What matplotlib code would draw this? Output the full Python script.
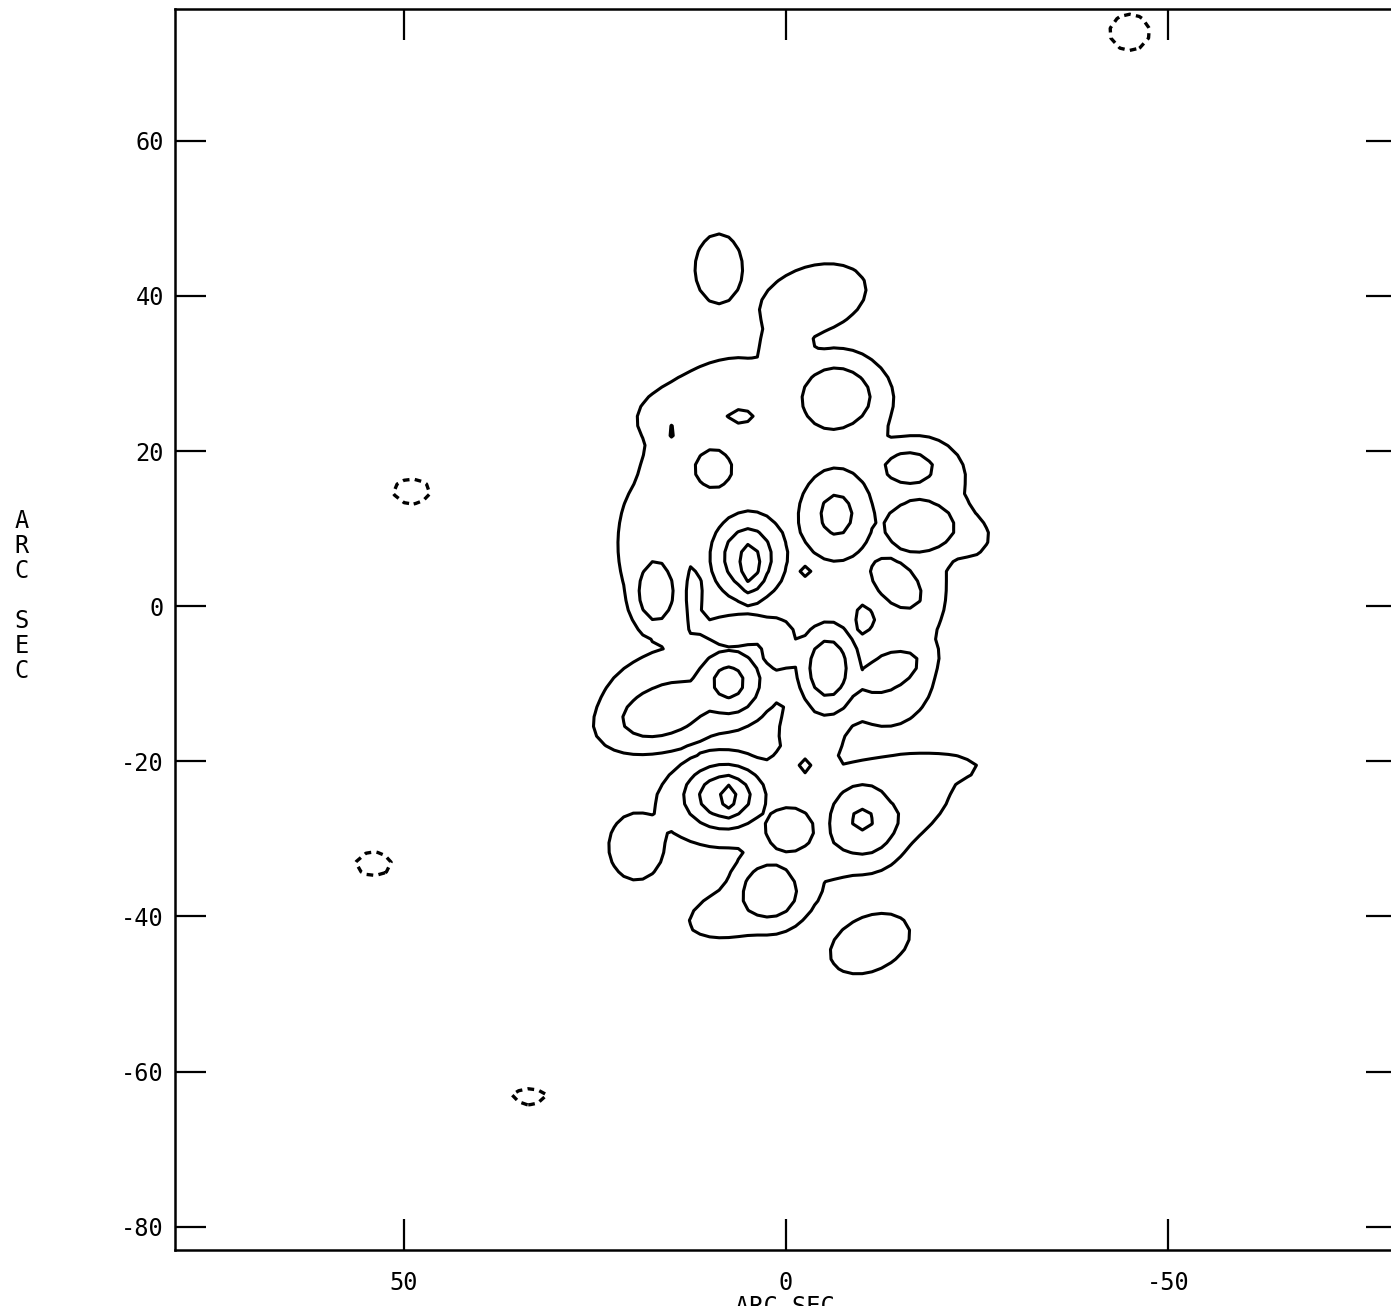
import numpy as np
import matplotlib
matplotlib.use("Agg")
import matplotlib.pyplot as plt

# ---------------------------------------------------------------------------
# Brightness map model: elliptical Gaussian components (offsets in arcsec).
# x = RA offset (east positive, plotted increasing to the left), y = Dec offset.
# pa = orientation of the sx axis, degrees counter-clockwise from +x.
# ---------------------------------------------------------------------------
# broad emission (plateau just above the lowest contour)
env_x   = [-3.5, 0.0, 10.0, -5.0, -9.0, -17.0, 17.5, 3.0, -15.5, -24.0, -13.0, 13.0, 0.0, -3.3,
           8.0, 19.6, -15.5, -15.0, 0.0, 4.0, -6.0, 8.8, -11.0,
           9.0, 15.5, -7.5, 0.3, -3.0]
env_y   = [39.5, 33.0, 24.0, 24.0, 27.0, 16.5, 8.0, 8.0, 3.0, 9.0, -8.0, -11.0, -6.0, -16.5,
           -25.5, -31.0, -21.5, -27.0, -30.0, -38.5, -31.0, 43.5, -43.5,
           28.5, 17.0, 1.0, -21.0, -22.5]
env_sx  = [6.64, 3.23, 8.76, 7.38, 4.15, 6.0, 4.15, 9.23, 5.07, 2.31, 6.0, 10.15, 5.54, 3.87,
           8.3, 3.32, 8.76, 7.38, 4.61, 8.3, 3.69, 2.86, 5.07,
           6.0, 3.2, 3.7, 2.3, 3.7]
env_sy  = [3.97, 3.69, 5.07, 6.46, 3.69, 5.07, 8.3, 11.07, 8.3, 2.31, 6.92, 5.54, 5.54, 4.61,
           5.07, 3.97, 2.21, 3.23, 5.54, 3.23, 3.69, 4.15, 3.23,
           2.77, 4.6, 3.7, 1.85, 2.77]
env_pa  = [-18, 0, 0, 0, 0, 0, 0, 0, 0, 0, 0, -10, 0, 0,
           0, 0, -5, -38, 0, -17, 0, 0, -24,
           -19, 0, 0, 0, 0]
env_amp = 1.8

# compact sources
src_x   = [5.0, 4.7, -6.5, 5.9, 14.8, 9.5, -16.0, -6.6, -17.5, -14.3, -10.3, -2.9, 17.0, 12.0,
           6.0, 1.0, 7.5, 16.0, -5.5, -13.5, -2.7, 8.0, 7.4, -0.5, 2.1, -10.0]
src_y   = [6.3, 5.3, 27.0, 24.5, 22.6, 17.7, 17.9, 11.8, 10.3, 3.0, -1.7, 4.2, 1.8, 1.0,
           -3.0, -5.0, -9.8, -13.5, -8.0, -8.5, -20.5, -24.5, -24.6, -28.7, -36.7, -27.5]
src_amp = [3.9, 4.6, 2.9, 2.9, 2.9, 2.9, 2.9, 3.29, 2.9, 2.9, 2.9, 2.9, 2.9, 2.9,
           2.9, 2.9, 3.43, 2.9, 3.77, 2.9, 2.9, 3.9, 4.4, 2.9, 2.9, 3.15]
src_sx  = [4.24, 1.6, 4.87, 1.74, 0.6, 2.8, 3.48, 4.8, 5.2, 4.4, 1.3, 0.8, 2.55, 1.0,
           6.4, 2.3, 3.85, 6.4, 3.55, 4.6, 0.7, 4.58, 1.3, 3.5, 3.9, 4.4]
src_sy  = [4.93, 3.6, 4.29, 0.93, 0.8, 2.8, 2.09, 6.0, 3.7, 2.55, 2.1, 0.9, 4.18, 5.8,
           2.1, 3.5, 3.85, 3.5, 5.3, 2.3, 1.0, 3.55, 2.4, 3.1, 3.8, 4.65]
src_pa  = [0, 0, 0, 0, 0, 0, 0, 0, 0, 42, 0, 0, 0, 0,
           0, 0, 0, -17, 0, -26, 0, 0, 0, 0, 0, 0]

# negative features (sidelobes)
neg_x   = [49.0, 54.0, 33.6, -45.0]
neg_y   = [14.8, -33.2, -63.2, 74.0]
neg_amp = [1.5, 1.5, 1.5, 1.5]
neg_sx  = [2.7, 2.6, 2.6, 2.9]
neg_sy  = [1.8, 1.7, 1.2, 2.6]

pos_levels = [1, 2, 3, 4]
neg_levels = [-1]

x_ticks = [50, 0, -50]
y_ticks = [60, 40, 20, 0, -20, -40, -60, -80]
axis_label = "ARC SEC"


def gauss(X, Y, x0, y0, amp, sx, sy, pa):
    t = np.deg2rad(pa)
    dx, dy = X - x0, Y - y0
    u = dx * np.cos(t) + dy * np.sin(t)
    v = -dx * np.sin(t) + dy * np.cos(t)
    return amp * np.exp(-0.5 * ((u / sx) ** 2 + (v / sy) ** 2))


step = 1.25
gx = np.arange(-80.0, 80.0 + step / 2, step)
gy = np.arange(-83.0, 77.0 + step / 2, step)
X, Y = np.meshgrid(gx, gy)

# components are merged with a soft maximum so that each keeps its own outline
p = 6.0
acc = np.zeros_like(X)
for i in range(len(env_x)):
    acc += gauss(X, Y, env_x[i], env_y[i], env_amp, env_sx[i], env_sy[i], env_pa[i]) ** p
for i in range(len(src_x)):
    acc += gauss(X, Y, src_x[i], src_y[i], src_amp[i], src_sx[i], src_sy[i], src_pa[i]) ** p
Z = acc ** (1.0 / p)
for i in range(len(neg_x)):
    Z -= gauss(X, Y, neg_x[i], neg_y[i], neg_amp[i], neg_sx[i], neg_sy[i], 0)

plt.rcParams["font.family"] = ["DejaVu Sans Mono"]

fig = plt.figure(figsize=(13.91, 13.06), dpi=100)
ax = fig.add_axes([175 / 1391, 56 / 1306, (1397 - 175) / 1391, (1297 - 56) / 1306])

ax.contour(X, Y, Z, levels=pos_levels, colors="black", linewidths=2.2,
           linestyles="solid")
neg = ax.contour(X, Y, Z, levels=neg_levels, colors="black", linewidths=2.4)
neg.set_linestyle((0, (2.0, 1.6)))

ax.set_xlim(80, -80)
ax.set_ylim(-83, 77)
ax.set_xticks(x_ticks)
ax.set_yticks(y_ticks)
ax.set_xticklabels([str(v) for v in x_ticks])
ax.set_yticklabels([str(v) for v in y_ticks])
ax.tick_params(direction="in", length=22, width=1.6, top=True, right=True,
               labelsize=17)
ax.tick_params(axis="x", pad=15)
ax.tick_params(axis="y", pad=8)
for s in ax.spines.values():
    s.set_linewidth(1.8)

fig.text(785 / 1391, (1306 - 1295) / 1306, axis_label, ha="center", va="top",
         fontsize=17)
fig.text(22 / 1391, (1306 - 596) / 1306, "\n".join(list(axis_label)),
         ha="center", va="center", fontsize=17, linespacing=1.05)

fig.savefig("out.png", dpi=100)
